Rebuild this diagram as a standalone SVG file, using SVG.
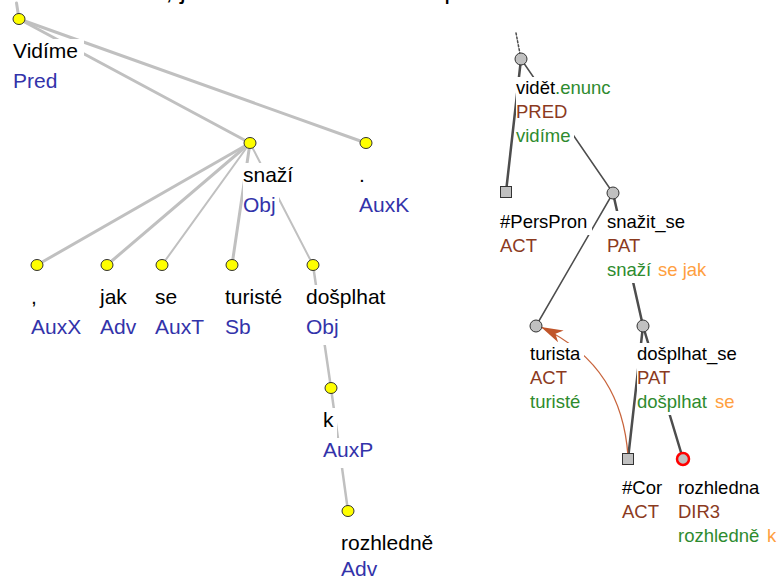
<svg xmlns="http://www.w3.org/2000/svg" width="778" height="581" viewBox="0 0 778 581">
<style>
text{font-family:"Liberation Sans",Arial,sans-serif;}
.L{font-size:21px;}
.R{font-size:18.5px;}
.w{fill:#000;}
.fn{fill:#3333aa;}
.ft{fill:#8b3a1e;}
.gr{fill:#2e8b2e;}
.or{fill:#ffa040;}
.bx{fill:#fff;}
.ae{stroke:#c0c0c0;stroke-linecap:round;fill:none;}
.te{stroke:#4d4d4d;stroke-linecap:round;fill:none;}
.yn{fill:#ffff00;stroke:#333;stroke-width:1;}
.gn{fill:#c0c0c0;stroke:#333;stroke-width:1;}
</style>
<defs>
<marker id="arr" markerUnits="userSpaceOnUse" markerWidth="24" markerHeight="14" refX="22" refY="6.5" orient="auto">
<path d="M0,0 L22,6.5 L0,13 L6,6.5 z" fill="#c0552a"/>
</marker>
</defs>
<rect x="0" y="0" width="778" height="581" fill="#fff"/>
<text x="85" y="-1" style="font-size:26px" fill="#000">Vidíme, jak se turisté snaží došplhat k rozhledně.</text>

<g id="connectors">
<line class="ae" x1="16.5" y1="3" x2="19" y2="19" stroke-width="3"/>
<line class="ae" x1="19" y1="19" x2="250" y2="143" stroke-width="3"/>
<line class="ae" x1="19" y1="19" x2="366" y2="143" stroke-width="3"/>
<line class="ae" x1="250" y1="143" x2="37" y2="265" stroke-width="3"/>
<line class="ae" x1="250" y1="143" x2="107" y2="265" stroke-width="3"/>
<line class="ae" x1="250" y1="143" x2="162" y2="265" stroke-width="2"/>
<line class="ae" x1="250" y1="143" x2="232" y2="265" stroke-width="3"/>
<line class="ae" x1="250" y1="143" x2="313" y2="265" stroke-width="2"/>
<line class="ae" x1="313" y1="265" x2="331" y2="388" stroke-width="2.5"/>
<line class="ae" x1="331" y1="388" x2="348" y2="511" stroke-width="2.5"/>

<line class="te" x1="516" y1="33" x2="521" y2="59" stroke-width="1.5" stroke-dasharray="2,2"/>
<line class="te" x1="521" y1="59" x2="506" y2="192" stroke-width="2.5"/>
<line class="te" x1="521" y1="59" x2="613" y2="193" stroke-width="1.5"/>
<line class="te" x1="613" y1="193" x2="536" y2="326" stroke-width="1.5"/>
<line class="te" x1="613" y1="193" x2="643" y2="326" stroke-width="2.5"/>
<line class="te" x1="643" y1="326" x2="628" y2="459" stroke-width="2.5"/>
<line class="te" x1="643" y1="326" x2="683" y2="459" stroke-width="2.5"/>
<path d="M628,456 C624,400 600,355 541,327" fill="none" stroke="#c8643c" stroke-width="1.3" marker-end="url(#arr)"/>
</g>

<g id="n-vidime">
<ellipse class="yn" cx="19" cy="19" rx="6" ry="5.5"/>
<rect class="bx" x="12" y="39" width="72" height="30"/>
<rect class="bx" x="12" y="69" width="48" height="30"/>
<text class="L w" x="13" y="58">Vidíme</text>
<text class="L fn" x="13" y="88">Pred</text>
</g>
<g id="n-snazi">
<ellipse class="yn" cx="250" cy="143" rx="6" ry="5.5"/>
<rect class="bx" x="243" y="163" width="54" height="30"/>
<rect class="bx" x="243" y="193" width="36" height="30"/>
<text class="L w" x="243" y="182">snaží</text>
<text class="L fn" x="243" y="212">Obj</text>
</g>
<g id="n-auxk">
<ellipse class="yn" cx="366" cy="143" rx="6" ry="5.5"/>
<rect class="bx" x="359" y="163" width="10" height="30"/>
<rect class="bx" x="359" y="193" width="54" height="30"/>
<text class="L w" x="359" y="182">.</text>
<text class="L fn" x="359" y="212">AuxK</text>
</g>
<g id="n-comma">
<ellipse class="yn" cx="37" cy="265" rx="6" ry="5.5"/>
<rect class="bx" x="31" y="285" width="10" height="30"/>
<rect class="bx" x="31" y="315" width="54" height="30"/>
<text class="L w" x="31" y="304">,</text>
<text class="L fn" x="31" y="334">AuxX</text>
</g>
<g id="n-jak">
<ellipse class="yn" cx="107" cy="265" rx="6" ry="5.5"/>
<rect class="bx" x="100" y="285" width="30" height="30"/>
<rect class="bx" x="100" y="315" width="40" height="30"/>
<text class="L w" x="100" y="304">jak</text>
<text class="L fn" x="100" y="334">Adv</text>
</g>
<g id="n-se">
<ellipse class="yn" cx="162" cy="265" rx="6" ry="5.5"/>
<rect class="bx" x="155" y="285" width="26" height="30"/>
<rect class="bx" x="155" y="315" width="53" height="30"/>
<text class="L w" x="155" y="304">se</text>
<text class="L fn" x="155" y="334">AuxT</text>
</g>
<g id="n-turiste">
<ellipse class="yn" cx="232" cy="265" rx="6" ry="5.5"/>
<rect class="bx" x="225" y="285" width="61" height="30"/>
<rect class="bx" x="225" y="315" width="30" height="30"/>
<text class="L w" x="225" y="304">turisté</text>
<text class="L fn" x="225" y="334">Sb</text>
</g>
<g id="n-dosplhat">
<ellipse class="yn" cx="313" cy="265" rx="6" ry="5.5"/>
<rect class="bx" x="306" y="285" width="83" height="30"/>
<rect class="bx" x="306" y="315" width="36" height="30"/>
<text class="L w" x="306" y="304">došplhat</text>
<text class="L fn" x="306" y="334">Obj</text>
</g>
<g id="n-k">
<ellipse class="yn" cx="331" cy="388" rx="6" ry="5.5"/>
<rect class="bx" x="323" y="408" width="14" height="30"/>
<rect class="bx" x="323" y="438" width="54" height="30"/>
<text class="L w" x="323" y="427">k</text>
<text class="L fn" x="323" y="457">AuxP</text>
</g>
<g id="n-rozhledne">
<ellipse class="yn" cx="348" cy="511" rx="6" ry="5.5"/>
<rect class="bx" x="341" y="531" width="96" height="28"/>
<rect class="bx" x="341" y="559" width="40" height="22"/>
<text class="L w" x="341" y="550">rozhledně</text>
<text class="L fn" x="341" y="576">Adv</text>
</g>

<g id="t-videt">
<circle class="gn" cx="521" cy="59" r="6"/>
<rect class="bx" x="516" y="77" width="98" height="24"/>
<rect class="bx" x="516" y="101" width="55" height="24"/>
<rect class="bx" x="516" y="125" width="58" height="24"/>
<text class="R" x="516" y="94"><tspan class="w">vidět</tspan><tspan class="gr">.enunc</tspan></text>
<text class="R ft" x="516" y="118">PRED</text>
<text class="R gr" x="516" y="142">vidíme</text>
</g>
<g id="t-perspron">
<rect class="gn" x="500.5" y="186.5" width="11" height="11"/>
<rect class="bx" x="500" y="211" width="92" height="24"/>
<rect class="bx" x="500" y="235" width="41" height="24"/>
<text class="R w" x="500" y="228">#PersPron</text>
<text class="R ft" x="500" y="252">ACT</text>
</g>
<g id="t-snazit">
<circle class="gn" cx="613" cy="193" r="6"/>
<rect class="bx" x="607" y="211" width="82" height="24"/>
<rect class="bx" x="607" y="235" width="40" height="24"/>
<rect class="bx" x="607" y="259" width="102" height="24"/>
<text class="R w" x="607" y="228">snažit_se</text>
<text class="R ft" x="607" y="252">PAT</text>
<text class="R gr" x="607" y="276">snaží</text>
<text class="R or" x="658" y="276">se jak</text>
</g>
<g id="t-turista">
<circle class="gn" cx="536" cy="326" r="6"/>
<rect class="bx" x="530" y="343" width="54" height="24"/>
<rect class="bx" x="530" y="367" width="41" height="24"/>
<rect class="bx" x="530" y="391" width="54" height="24"/>
<text class="R w" x="530" y="360">turista</text>
<text class="R ft" x="530" y="384">ACT</text>
<text class="R gr" x="530" y="408">turisté</text>
</g>
<g id="t-dosplhat">
<circle class="gn" cx="643" cy="326" r="6"/>
<rect class="bx" x="637" y="343" width="103" height="24"/>
<rect class="bx" x="637" y="367" width="40" height="24"/>
<rect class="bx" x="637" y="391" width="100" height="24"/>
<text class="R w" x="637" y="360">došplhat_se</text>
<text class="R ft" x="637" y="384">PAT</text>
<text class="R gr" x="637" y="408">došplhat</text>
<text class="R or" x="715" y="408">se</text>
</g>
<g id="t-cor">
<rect class="gn" x="622.5" y="453.5" width="11" height="11"/>
<rect class="bx" x="622" y="477" width="44" height="24"/>
<rect class="bx" x="622" y="501" width="41" height="24"/>
<text class="R w" x="622" y="494">#Cor</text>
<text class="R ft" x="622" y="518">ACT</text>
</g>
<g id="t-rozhledna">
<circle cx="683" cy="459" r="6" fill="#c0c0c0" stroke="#ff0000" stroke-width="2.5"/>
<text class="R w" x="678" y="494">rozhledna</text>
<text class="R ft" x="678" y="518">DIR3</text>
<text class="R gr" x="678" y="542">rozhledně</text>
<text class="R or" x="767" y="542">k</text>
</g>
</svg>
